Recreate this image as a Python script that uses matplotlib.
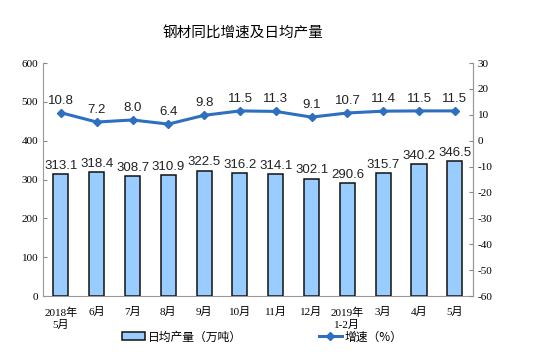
import matplotlib.pyplot as plt
import numpy as np

plt.rcParams['font.family'] = ['Liberation Serif', 'Noto Sans CJK SC']
plt.rcParams['axes.unicode_minus'] = False

months = ['2018年\n5月', '6月', '7月', '8月', '9月', '10月', '11月', '12月',
          '2019年\n1-2月', '3月', '4月', '5月']
daily_output = [313.1, 318.4, 308.7, 310.9, 322.5, 316.2, 314.1, 302.1,
                290.6, 315.7, 340.2, 346.5]
growth = [10.8, 7.2, 8.0, 6.4, 9.8, 11.5, 11.3, 9.1, 10.7, 11.4, 11.5, 11.5]

cjk = ['Noto Sans CJK SC', 'DejaVu Sans']
sans = ['Liberation Sans', 'Noto Sans CJK SC']

fig = plt.figure(figsize=(5.46, 3.52), dpi=100)
ax = fig.add_axes([0.0788, 0.159, 0.787, 0.662])
x = np.arange(len(months))

bars = ax.bar(x, daily_output, width=0.42, color='#99ccff', edgecolor='#111111',
              linewidth=1.1, label='日均产量（万吨）', zorder=2)
for xi, v in zip(x, daily_output):
    ax.text(xi, v + 6, f'{v:.1f}', ha='center', va='bottom', fontsize=9.5,
            family=sans, color='#222222')

ax.set_ylim(0, 600)
ax.set_yticks(range(0, 601, 100))
ax.set_xlim(-0.5, len(months) - 0.5)
ax.set_xticks(x)
ax.set_xticklabels(months, fontsize=8, linespacing=1.3)
ax.tick_params(axis='y', direction='in', length=3, labelsize=8, color='#888888')
ax.tick_params(axis='x', length=0, pad=8)
ax.spines['top'].set_visible(False)
for s in ['left', 'bottom', 'right']:
    ax.spines[s].set_color('#999999')

ax2 = ax.twinx()
line, = ax2.plot(x, growth, color='#2e6fc0', marker='D', markersize=4,
                 linewidth=2.2, label='增速（%）', zorder=3)
for xi, v in zip(x, growth):
    ax2.text(xi, v + 2.3, f'{v:.1f}', ha='center', va='bottom', fontsize=9.5,
             family=sans, color='#222222')
ax2.set_ylim(-60, 30)
ax2.set_yticks(range(-60, 31, 10))
ax2.tick_params(axis='y', direction='in', length=3, labelsize=8, color='#888888')
ax2.spines['top'].set_visible(False)
ax2.spines['right'].set_color('#999999')
ax2.spines['left'].set_visible(False)
ax2.spines['bottom'].set_visible(False)

fig.text(0.445, 0.906, '钢材同比增速及日均产量', ha='center', va='center',
         fontsize=10.5, family=cjk)

fig.legend([bars, line], ['日均产量（万吨）', '增速（%）'], loc='center',
           bbox_to_anchor=(0.48, 0.043), ncol=2, frameon=False,
           prop={'family': cjk, 'size': 8.5}, columnspacing=6.5,
           handlelength=2.0, handletextpad=0.2)

fig.savefig('out.png', dpi=100)
